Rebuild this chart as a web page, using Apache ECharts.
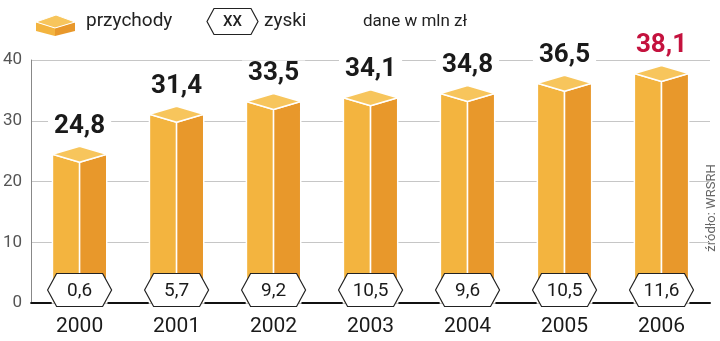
<!DOCTYPE html>
<html><head><meta charset="utf-8">
<script src="https://cdn.jsdelivr.net/npm/echarts@6/dist/echarts.min.js"></script>
<style>html,body{margin:0;padding:0;background:#fff}#c{width:720px;height:341px}</style>
</head><body><div id="c"></div>
<script>
var years = ['2000','2001','2002','2003','2004','2005','2006'];
var revenue = [24.8, 31.4, 33.5, 34.1, 34.8, 36.5, 38.1];
var profit = [0.6, 5.7, 9.2, 10.5, 9.6, 10.5, 11.6];
var yTicks = [0, 10, 20, 30, 40];

var FONT = 'Roboto';
function fmt(v){ return String(v.toFixed(1)).replace('.', ','); }

var chart = echarts.init(document.getElementById('c'), null, {renderer:'canvas'});

function barItem(params, api){
  var i = api.value(0), v = api.value(1);
  var top = api.coord([i, v]);
  var base = api.coord([i, 0]);
  var band = api.size([1, 0])[0];
  var w = band * 0.28;
  var cx = top[0], yt = top[1] + 2, y0 = base[1], d = 8;
  var last = params.dataIndex === years.length - 1;
  return {
    type: 'group',
    children: [
      {type:'polygon', shape:{points:[[cx-w,yt],[cx,yt+d],[cx,y0],[cx-w,y0]]},
       style:{fill:'#F3B43F', stroke:'#fff', lineWidth:1.5}},
      {type:'polygon', shape:{points:[[cx,yt+d],[cx+w,yt],[cx+w,y0],[cx,y0]]},
       style:{fill:'#E8982B', stroke:'#fff', lineWidth:1.5}},
      {type:'polygon', shape:{points:[[cx-w,yt],[cx,yt-d],[cx+w,yt],[cx,yt+d]]},
       style:{fill:'#F7C55C', stroke:'#fff', lineWidth:1.5}},
      {type:'text', style:{x:cx, y:yt-d-20, text:fmt(v), align:'center', verticalAlign:'middle',
        font:'bold 26px ' + FONT, fill: last ? '#C4123E' : '#1a1a1a',
        backgroundColor:'#fff', padding:[0,6,0,6]}}
    ]
  };
}

function hexItem(params, api){
  var i = api.value(0), v = api.value(1);
  var base = api.coord([i, 0]);
  var cx = base[0], cy = base[1] - 13, hw = 32, hh = 16.5, ins = 9;
  return {
    type:'group',
    children:[
      {type:'polygon', shape:{points:[[cx-hw,cy],[cx-hw+ins,cy-hh],[cx+hw-ins,cy-hh],[cx+hw,cy],[cx+hw-ins,cy+hh],[cx-hw+ins,cy+hh]]},
       style:{fill:'#fff', stroke:'#222', lineWidth:1.2}},
      {type:'text', style:{x:cx, y:cy+1, text:fmt(v), align:'center', verticalAlign:'middle',
        font:'19px ' + FONT, fill:'#1a1a1a'}}
    ]
  };
}

var option = {
  animation:false,
  grid:{left:31, right:10, top:60, bottom:38},
  xAxis:{type:'category', data:years, boundaryGap:true,
    axisLine:{lineStyle:{color:'#111', width:2}}, axisTick:{show:false},
    axisLabel:{color:'#1a1a1a', fontSize:21, fontFamily:FONT, margin:13}},
  yAxis:{type:'value', min:yTicks[0], max:yTicks[yTicks.length-1], interval:10,
    axisLine:{show:true, lineStyle:{color:'#888', width:1}}, axisTick:{show:false},
    axisLabel:{color:'#555', fontSize:17, fontFamily:FONT, margin:9},
    splitLine:{lineStyle:{color:'#c6c6c6', width:1}}},
  series:[
    {type:'custom', renderItem:barItem, data: years.map(function(y,i){return [i, revenue[i]];}), z:3, clip:false},
    {type:'custom', renderItem:hexItem, data: years.map(function(y,i){return [i, profit[i]];}), z:5, clip:false}
  ],
  graphic:[
    {type:'polygon', shape:{points:[[36,22],[55,28],[55,36],[36,31]]}, style:{fill:'#F3B43F'}},
    {type:'polygon', shape:{points:[[55,28],[75,22],[75,31],[55,36]]}, style:{fill:'#E8982B'}},
    {type:'polygon', shape:{points:[[36,22],[56,15],[75,22],[55,28]]}, style:{fill:'#F7C55C', stroke:'#fff', lineWidth:1}},
    {type:'text', left:86, top:12, style:{text:'przychody', font:'19px ' + FONT, fill:'#222'}},
    {type:'polygon', shape:{points:[[207,21.5],[214,8.5],[251,8.5],[258,21.5],[251,34.5],[214,34.5]]},
      style:{fill:'#fff', stroke:'#222', lineWidth:1.2}},
    {type:'text', x:232.5, y:22, style:{text:'XX', align:'center', verticalAlign:'middle', font:'500 15px ' + FONT, fill:'#222'}},
    {type:'text', left:264, top:12, style:{text:'zyski', font:'19px ' + FONT, fill:'#222'}},
    {type:'text', left:363, top:13, style:{text:'dane w mln zł', font:'17px ' + FONT, fill:'#222'}},
    {type:'text', x:712, y:208, rotation:Math.PI/2,
      style:{text:'źródło: WRSRH', align:'center', verticalAlign:'middle', font:'13px ' + FONT, fill:'#666'}}
  ]
};
chart.setOption(option);
</script></body></html>
